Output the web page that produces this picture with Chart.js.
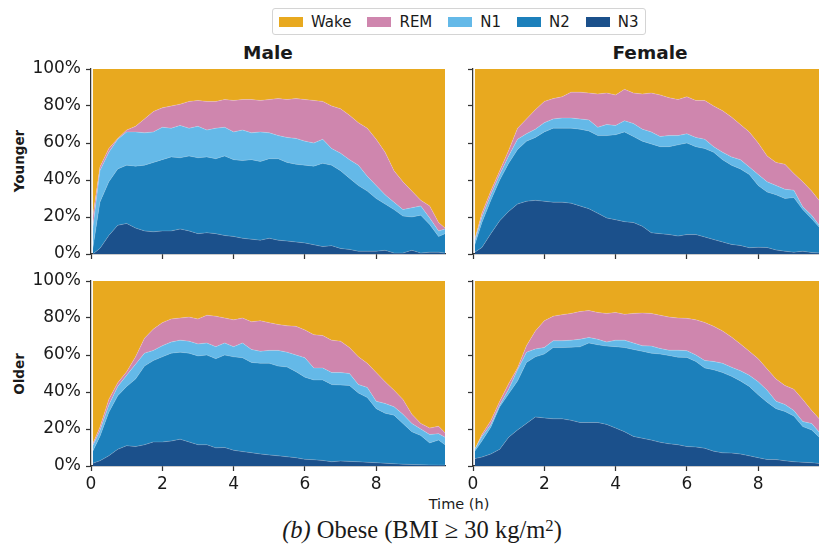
<!DOCTYPE html>
<html>
<head>
<meta charset="utf-8">
<script src="https://cdn.jsdelivr.net/npm/chart.js"></script>
<style>
    html, body { margin: 0; padding: 0; width: 819px; height: 546px; overflow: hidden; background: #fff; }
    body { font-family: "DejaVu Sans", sans-serif; color: #1a1a1a; position: relative; }
    canvas { position: absolute; }
    .lbl { position: absolute; transform: translate(-50%, -50%); white-space: nowrap; line-height: 1; }
    .rot { transform: translate(-50%, -50%) rotate(-90deg); }
    #legend { position: absolute; left: 272px; top: 8px; width: 366px; height: 25px; border: 1px solid #d4d4d4; border-radius: 3px;
              display: flex; align-items: center; padding-left: 6px; box-sizing: content-box; font-size: 15px; }
    .item { display: flex; align-items: center; margin-right: 16px; }
    .patch { width: 24px; height: 10px; margin-right: 8px; }
</style>
</head>
<body>

<div id="legend"></div>

<div class="lbl" style="left:268px; top:53px; font-weight:bold; font-size:18.5px;">Male</div>
<div class="lbl" style="left:650px; top:53px; font-weight:bold; font-size:18.5px;">Female</div>
<div class="lbl rot" style="left:20px; top:161px; font-weight:bold; font-size:13.5px;">Younger</div>
<div class="lbl rot" style="left:20px; top:374px; font-weight:bold; font-size:13.5px;">Older</div>
<div class="lbl" style="left:459px; top:504px; font-size:14.5px;">Time (h)</div>
<div class="lbl" style="left:422px; top:530px; font-family:'Liberation Serif', serif; font-size:24.5px;">
    <i>(b)</i> Obese (BMI &ge; 30 kg/m<span style="font-size:0.68em; position:relative; top:-0.45em;">2</span>)
</div>

<canvas id="c_my" width="418" height="233" style="left:31px; top:53px;"></canvas>
<canvas id="c_fy" width="368" height="233" style="left:463px; top:53px;"></canvas>
<canvas id="c_mo" width="418" height="233" style="left:31px; top:265px;"></canvas>
<canvas id="c_fo" width="368" height="233" style="left:463px; top:265px;"></canvas>

<script type="text/javascript">
    // time since lights off (h)
    const hours = [0.05,0.25,0.5,0.75,1,1.25,1.5,1.75,2,2.25,2.5,2.75,3,3.25,3.5,3.75,4,4.25,4.5,4.75,5,5.25,5.5,5.75,6,6.25,6.5,6.75,7,7.25,7.5,7.75,8,8.25,8.5,8.75,9,9.25,9.5,9.75,9.93];

    const stages = ['Wake', 'REM', 'N1', 'N2', 'N3'];
    const stageColors = ['#E8A91F', '#CF86AE', '#64B9E8', '#1C80BB', '#1B508B'];
    const xTicks = [0, 2, 4, 6, 8];
    const yTicks = [0, 20, 40, 60, 80, 100];

    // upper edge of each band in % (cumulative from the bottom)
    // male, younger
    const myN3 = [0,3,10,15.5,16.5,14,12.5,12,12.5,12.5,13.5,12.5,11,11.5,11,10,9.5,8.5,8,7.5,8.5,7.5,7,6.5,6,5,4,4.5,3,2.5,1.5,1.5,1.5,2,0.5,0.5,2,0.5,1,1,0.5];
    const myN2 = [3,28,39,46,48,47.5,48,49.5,51,52.5,52,53,52,52.5,51.5,53,51,50.5,51,50,51.5,51.5,49.5,48.5,48,47.5,49,48,45,41,37,34,30,27,24,20.5,20,21,16,9.5,11];
    const myN1 = [14,45,55,62,66,66,65.5,66,68.5,68,69.5,68,69,67,68,68.5,66,67,65.5,66,65.5,64,63,62.5,61,60,62,57,54.5,51,48,42,37,32,28,24,25,26,19.5,12.5,13.5];
    const myREM = [20,47,57,62.5,67,69,73,77,79,80,81,82.5,83,82.5,82.5,83.5,83,83.5,83.5,83,83.5,84,83.5,84,83.5,83,82.5,80,78.5,75,71,68,62,55,45,39,34,29,26,17,14];

    // female, younger
    const fyN3 = [1,3.5,11,18,23,27,28.5,29,28.5,28,28,27.5,26,24.5,22,19.5,18.5,17.5,17,15,11.5,11,10.5,9.7,10.5,10.5,9.2,7.8,6.5,5.2,4.6,3.4,3.6,3.5,2.2,1.5,1,1.5,0.8,0.5,0.5];
    const fyN2 = [5,17,29,40,49,56.5,61,63,66,68,68,68,67.5,66.5,64,64,64.5,66,63.5,61,59.5,58,58,59,60,58,57,55,51,48,46,43,37,33.5,32,30,30.5,24,19,13.7,11];
    const fyN1 = [7,20,32,43,53,62,65,67.5,71,73,73.5,73.5,73,72.5,68.5,70,69.5,72,70.5,67.5,66,63.5,64,64,65,63,62,58,55,52.5,51,47,43,39,37,35,34.5,25.5,21,14.6,12];
    const fyREM = [8,22,34,45,56,68,73,78,82.5,84,85,87.5,87.5,87,86.5,87,86,89,87,86.5,87,86,84.5,83.5,85,83,83,80,77.5,74,70,66,60,53,49.5,48.5,43.5,39,34,28,24];

    // male, older
    const moN3 = [1.5,2.8,5.5,9,11,10.5,11.5,13,13,13.5,14.5,13,11.5,11.5,9.8,10,8.5,7.8,7.2,6.5,6,5.5,5,4.5,3.6,3.4,3,2.3,2.7,2.5,2.3,2,1.8,1.5,1.2,1,0.8,0.7,0.6,0.5,0.5];
    const moN2 = [8,16,29,38,43,47,54,57,59,61,61.5,61,59.5,60,58,60,59,58.5,56,55.5,55.5,54,53.5,51,48,46.5,46.5,44,43.8,43.5,39.5,37,31,28.5,27.5,23,18.5,16.5,12.5,14,11.5];
    const moN1 = [11,19,33,43,49,55,61,62.5,65,67,68,67.5,66,66.5,64.5,66.5,64.5,66.5,63,62,62.5,62.5,61.5,60,58.5,53,53,50.5,50.5,50,44,42.5,35,33.8,32,28,23,20,17,17.5,15.5];
    const moREM = [12,21,36,45,51,59,69,74,77.5,79.5,80,80.5,79.5,81.5,81,80,79,80,78,78.5,77.5,76.5,75.8,75.5,73.5,71,70.5,68,67.5,64,59,55.5,50.5,45.5,41,36,28,23,20.5,21.5,18];

    // female, older
    const foN3 = [4,4.8,6.5,9,15.5,19.5,23,26.5,26,25.5,25.5,24.7,23.5,23.5,23.5,22.5,20.5,18.5,16,15,14,12.8,12,11.5,10.5,10.3,9.6,8,7.1,7,6.5,5.5,4.5,3.5,3.5,2.8,2.3,2,1.8,1.3,1.2];
    const foN2 = [8,13.5,21,32,39,46,56,59,60.5,64,64,64.2,64.4,66.5,65.5,64.8,64.5,64,63,62,61,60.5,59.7,58.8,58.7,56.5,53,52,50.5,48.5,46,43,38.5,34.5,31,29.5,27,21.3,19.5,14.8,12];
    const foN1 = [9,16,22.5,33,41.5,52,61.5,63.3,64,67.7,67.7,68,68.5,69.5,68.5,67,68,68,66.5,65,64.8,63.5,62.6,62.6,62.3,60,57,56.5,55.5,53.4,51.5,49,45.5,41,35,33.2,30,24,23,17.5,14];
    const foREM = [9,17,24.5,35,44.5,53,65,73,78.5,81,81.8,82.5,83.5,84,83,82.5,83,82,82.5,82.7,82.5,81.5,80.5,80,79.8,79,77.6,75.5,73,69.7,66,62,58,52.5,47,43.5,41.5,36,30,24.7,21];

    Chart.defaults.font.family = '"DejaVu Sans", sans-serif';
    Chart.defaults.color = '#1a1a1a';

    // legend
    const legend = document.getElementById('legend');
    stages.forEach(function (s, i) {
        legend.insertAdjacentHTML('beforeend',
            '<div class="item"><div class="patch" style="background:' + stageColors[i] + '"></div><span>' + s + '</span></div>');
    });

    function pts(arr) {
        return arr.map(function (v, i) { return { x: hours[i], y: v }; });
    }

    function makePanel(id, n3, n2, n1, rem, showY, showX) {
        const edge = 'rgba(255,255,255,0.3)';
        const axisCol = '#333';
        const axisGrid = { drawOnChartArea: false, drawTicks: true, tickLength: 5, tickColor: axisCol, tickWidth: 1.25 };
        const axisBorder = { display: true, color: axisCol, width: 1.25 };

        new Chart(document.getElementById(id), {
            type: 'line',
            data: {
                datasets: [
                    { label: 'N3', data: pts(n3), fill: 'origin', backgroundColor: stageColors[4], borderColor: edge, borderWidth: 0.6 },
                    { label: 'N2', data: pts(n2), fill: '-1', backgroundColor: stageColors[3], borderColor: edge, borderWidth: 0.6 },
                    { label: 'N1', data: pts(n1), fill: '-1', backgroundColor: stageColors[2], borderColor: edge, borderWidth: 0.6 },
                    { label: 'REM', data: pts(rem), fill: '-1', backgroundColor: stageColors[1], borderColor: edge, borderWidth: 0.6 },
                    { label: 'Wake', data: pts(rem), fill: 'end', backgroundColor: stageColors[0], borderWidth: 0 }
                ]
            },
            options: {
                responsive: false,
                animation: false,
                // top padding must exceed the half-height of the "100%" label, so both columns line up
                layout: { padding: { top: 16, right: 4, left: 0, bottom: 0 } },
                elements: { point: { radius: 0 }, line: { tension: 0 } },
                plugins: { legend: { display: false }, tooltip: { enabled: false } },
                scales: {
                    x: {
                        type: 'linear', min: 0, max: 9.93,
                        afterBuildTicks: function (s) { s.ticks = xTicks.map(function (v) { return { value: v }; }); },
                        afterFit: function (s) { s.height = 32; },
                        ticks: { display: showX, font: { size: 17 }, color: '#1a1a1a', padding: 3, maxRotation: 0 },
                        grid: axisGrid,
                        border: axisBorder
                    },
                    y: {
                        min: 0, max: 100,
                        afterBuildTicks: function (s) { s.ticks = yTicks.map(function (v) { return { value: v }; }); },
                        afterFit: function (s) { s.width = showY ? 60 : 10; },
                        ticks: { display: showY, font: { size: 17 }, color: '#1a1a1a', padding: 5,
                                 callback: function (v) { return v + '%'; } },
                        grid: axisGrid,
                        border: axisBorder
                    }
                }
            }
        });
    }

    makePanel('c_my', myN3, myN2, myN1, myREM, true, false);
    makePanel('c_fy', fyN3, fyN2, fyN1, fyREM, false, false);
    makePanel('c_mo', moN3, moN2, moN1, moREM, true, true);
    makePanel('c_fo', foN3, foN2, foN1, foREM, false, true);
</script>
</body>
</html>
